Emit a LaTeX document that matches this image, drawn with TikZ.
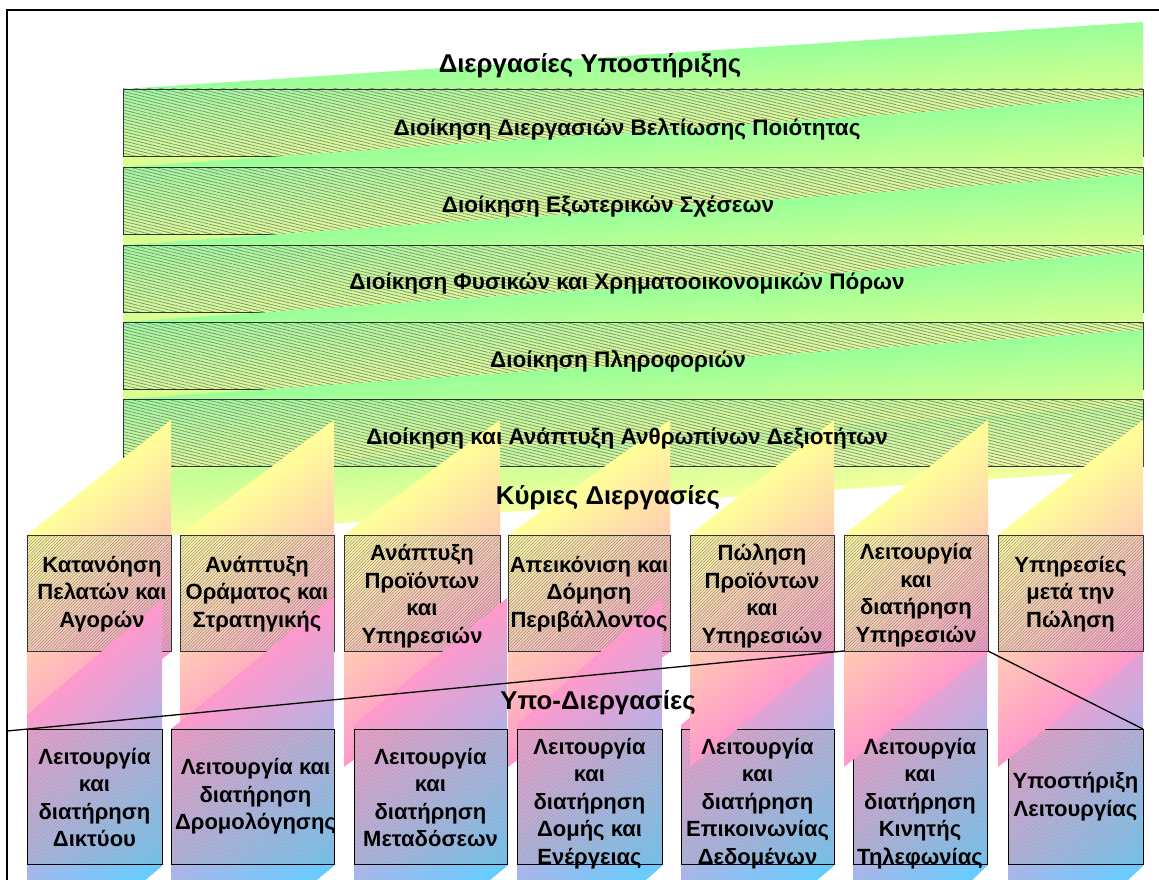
\documentclass[tikz,border=0pt]{standalone}
\usepackage{fontspec}
\setmainfont{Liberation Sans}
\usetikzlibrary{patterns.meta}

\definecolor{bandgreen}{rgb}{0.6,1,0.6}
\definecolor{bandyellow}{rgb}{0.87,1,0.56}
\definecolor{paleyellow}{rgb}{0.96,1,0.62}
\definecolor{coryellow}{rgb}{1,1,0.6}
\definecolor{corpink}{rgb}{1,0.6,0.8}
\definecolor{subblue}{rgb}{0.4,0.8,1}

\tikzset{
  frameline/.style={line width=1.8pt, draw=black},
  rowbox/.style={draw=black!80, line width=0.9pt, inner sep=0pt, outer sep=0pt,
    anchor=north west, minimum width=1020pt, minimum height=67pt,
    pattern={Lines[angle=-14,distance=3pt,line width=0.8pt]}, pattern color=black!45},
  mainbox/.style={draw=black!80, line width=0.9pt, inner sep=0pt, outer sep=0pt,
    anchor=north west, minimum height=116pt,
    pattern={Lines[angle=45,distance=2.2pt,line width=0.5pt]}, pattern color=black!45},
  subbox/.style={draw=black, line width=0.9pt, inner sep=0pt, outer sep=0pt,
    anchor=north west, minimum height=135pt,
    pattern={Lines[angle=50,distance=2.4pt,line width=0.5pt]}, pattern color=gray!75},
  rowtext/.style={font=\bfseries\fontsize{22.5}{26}\selectfont, inner sep=0pt},
  titletext/.style={font=\bfseries\fontsize{25.8}{30}\selectfont, inner sep=0pt},
  boxtext/.style={font=\bfseries\fontsize{22}{27.5}\selectfont, align=center, inner sep=0pt},
  link/.style={line width=1.3pt, draw=black},
}

\begin{document}
\begin{tikzpicture}[x=1pt, y=-1pt]
\useasboundingbox (0,0) rectangle (1159,880);

% outer frame (left and top sides)
\coordinate (fbl) at (7,881);
\coordinate (ftl) at (7,10);
\coordinate (ftr) at (1160,10);
\draw[frameline] (fbl) -- (ftl) -- (ftr);

% support processes: slanted green bands and hatched rows
\newcommand\supportband[5]{%
  \begin{scope}[transform canvas={shift={(123,#1)}, yslant={(#1-#2)/1020}}]
    \shade[top color=#4, bottom color=#5] (0,0) rectangle (1020,#3);
  \end{scope}}
\supportband{89}{22}{78}{bandgreen}{bandyellow}
\node[rowbox] (r1) at (123,89) {};
\supportband{167}{97}{78}{bandgreen}{bandyellow}
\node[rowbox] (r2) at (123,167) {};
\supportband{245}{174}{78}{bandgreen}{bandyellow}
\node[rowbox] (r3) at (123,245) {};
\supportband{322}{252}{78}{bandgreen}{bandyellow}
\node[rowbox] (r4) at (123,322) {};
\supportband{399}{330}{78}{bandgreen}{bandyellow}
\supportband{474}{405}{64}{bandgreen!45!bandyellow}{paleyellow}
\node[rowbox] (r5) at (123,399) {};

% core processes (yellow-pink columns) and sub-processes (pink-blue columns)
\newcommand\corecolumn[2]{%
  \begin{scope}[transform canvas={shift={(#1,535)}, yslant={115/(#2-#1)}}]
    \shade[top color=coryellow, bottom color=corpink] (0,0) rectangle ({#2-#1},232);
  \end{scope}}
\newcommand\subcolumn[4]{%
  \begin{scope}[transform canvas={shift={(#1,#3)}, yslant={(#3-#4)/(#2-#1)}}]
    \shade[top color=corpink, bottom color=subblue] (0,0) rectangle ({#2-#1},{866-#4});
  \end{scope}}

\foreach \n/\xl/\xr/\sl/\sr/\tl/\tr in
  {1/27/171/27/162/715/600, 2/180/334/171/334/729/597,
   3/344/500/354/507/725/598, 4/508/670/517/662/725/598}{
  \corecolumn{\xl}{\xr}
  \node[mainbox, minimum width={(\xr-\xl)*1pt}] (m\n) at (\xl,535) {};
  \subcolumn{\sl}{\sr}{\tl}{\tr}
  \node[subbox, minimum width={(\sr-\sl)*1pt}] (s\n) at (\sl,729) {};
}
\foreach \n/\xl/\xr/\sl/\sr/\tl/\tr in
  {5/690/834/681/834/725/598, 6/844/988/853/987/725/598,
   7/998/1143/1008/1143/725/598}{
  \subcolumn{\sl}{\sr}{\tl}{\tr}
  \node[subbox, minimum width={(\sr-\sl)*1pt}] (s\n) at (\sl,729) {};
  \corecolumn{\xl}{\xr}
  \node[mainbox, minimum width={(\xr-\xl)*1pt}] (m\n) at (\xl,535) {};
}

% lines from "Λειτουργία και διατήρηση Υπηρεσιών" to its sub-processes
\coordinate (lfoot) at (7,731);
\draw[link] (lfoot) -- (m6.south west);
\draw[link] (m6.south east) -- (s7.north east);

% titles
\node[titletext] (tsup) at (590,66) {Διεργασίες Υποστήριξης};
\node[titletext] (tcore) at (608,498) {Κύριες Διεργασίες};
\node[titletext] (tsub) at (598,703) {Υπο-Διεργασίες};

% support process rows
\node[rowtext] (tr1) at (627,129) {Διοίκηση Διεργασιών Βελτίωσης Ποιότητας};
\node[rowtext] (tr2) at (608,207) {Διοίκηση Εξωτερικών Σχέσεων};
\node[rowtext] (tr3) at (627,284) {Διοίκηση Φυσικών και Χρηματοοικονομικών Πόρων};
\node[rowtext] (tr4) at (618,361) {Διοίκηση Πληροφοριών};
\node[rowtext] (tr5) at (627,439) {Διοίκηση και Ανάπτυξη Ανθρωπίνων Δεξιοτήτων};

% core process labels
\node[boxtext] (tm1) at ([xshift=3pt,yshift=-1pt]m1.center) {Κατανόηση\\Πελατών και\\Αγορών};
\node[boxtext] (tm2) at ([yshift=-1pt]m2.center) {Ανάπτυξη\\Οράματος και\\Στρατηγικής};
\node[boxtext] (tm3) at ([yshift=-3pt]m3.center) {Ανάπτυξη\\Προϊόντων\\και\\Υπηρεσιών};
\node[boxtext] (tm4) at ([yshift=-1pt]m4.center) {Απεικόνιση και\\Δόμηση\\Περιβάλλοντος};
\node[boxtext] (tm5) at ([yshift=-3pt]m5.center) {Πώληση\\Προϊόντων\\και\\Υπηρεσιών};
\node[boxtext] (tm6) at ([yshift=-2pt]m6.center) {Λειτουργία\\και\\διατήρηση\\Υπηρεσιών};
\node[boxtext] (tm7) at ([yshift=-1pt]m7.center) {Υπηρεσίες\\μετά την\\Πώληση};

% sub-process labels
\node[boxtext] (ts1) at ([yshift=-1pt]s1.center) {Λειτουργία\\και\\διατήρηση\\Δικτύου};
\node[boxtext] (ts2) at ([xshift=3pt]s2.center) {Λειτουργία και\\διατήρηση\\Δρομολόγησης};
\node[boxtext] (ts3) at ([yshift=-1pt]s3.center) {Λειτουργία\\και\\διατήρηση\\Μεταδόσεων};
\node[boxtext] (ts4) at ([yshift=-7pt]s4.center) {Λειτουργία\\και\\διατήρηση\\Δομής και\\Ενέργειας};
\node[boxtext] (ts5) at ([yshift=-7pt]s5.center) {Λειτουργία\\και\\διατήρηση\\Επικοινωνίας\\Δεδομένων};
\node[boxtext] (ts6) at ([yshift=-7pt]s6.center) {Λειτουργία\\και\\διατήρηση\\Κινητής\\Τηλεφωνίας};
\node[boxtext] (ts7) at (s7.center) {Υποστήριξη\\Λειτουργίας};
\end{tikzpicture}
\end{document}
